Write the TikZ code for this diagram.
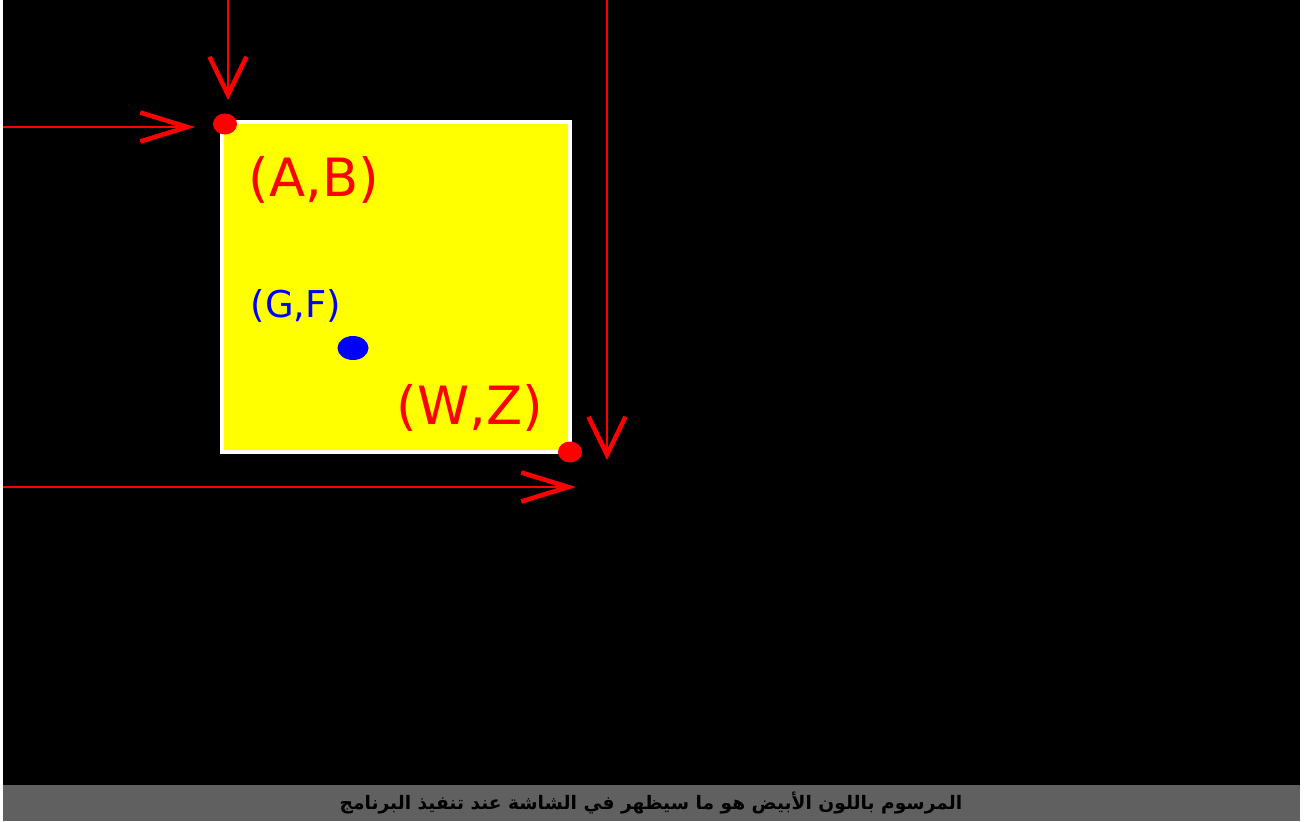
\documentclass[tikz,border=0pt]{standalone}
\usepackage{fontspec}
\setsansfont{DejaVu Sans}
\newfontfamily\arabicfont[Script=Arabic]{DejaVu Sans}
\TeXXeTstate=1
\usetikzlibrary{arrows.meta, shapes.geometric}
\definecolor{screenred}{RGB}{255,0,0}
\definecolor{screenblue}{RGB}{0,0,255}
\definecolor{screenyellow}{RGB}{255,255,0}
\definecolor{bargray}{RGB}{96,96,96}

\begin{document}
\begin{tikzpicture}[
    x=0.01cm, y=-0.01cm,
    % Corner and centre points
    corner_dot/.style={ellipse, fill=screenred, inner sep=0pt, minimum width=0.24cm, minimum height=0.21cm},
    centre_dot/.style={ellipse, fill=screenblue, inner sep=0pt, minimum width=0.31cm, minimum height=0.24cm},
    % Pointer arrows
    down_pointer/.style={-{Straight Barb[length=3.8mm, width=3.7mm, line width=1.3pt]}, draw=screenred, line width=0.7pt},
    right_pointer/.style={-{Straight Barb[length=4.7mm, width=2.9mm, line width=1.3pt]}, draw=screenred, line width=0.7pt},
    % Labels
    corner_label/.style={text=screenred, font=\sffamily\fontsize{15}{15}\selectfont, inner sep=0pt},
    centre_label/.style={text=screenblue, font=\sffamily\fontsize{10.5}{10.5}\selectfont, inner sep=0pt}
]

    % --- BACKGROUND ---
    \useasboundingbox[fill=white] (0,0) rectangle (1304,821);
    \fill[black] (3,0) rectangle (1300,785);
    \fill[bargray] (3,785) rectangle (1300,821);

    % --- RECTANGLE ---
    \draw[fill=screenyellow, draw=white, line width=1.2pt] (222,122) rectangle (570,452);

    % --- POINTS ---
    \node[corner_dot] (AB) at (225,124) {};
    \node[corner_dot] (WZ) at (570,452) {};
    \node[centre_dot] (GF) at (353,348) {};

    % --- LABELS ---
    \node[corner_label] (ABlabel) at (314,180) {(A,B)};
    \node[centre_label] (GFlabel) at (296,306) {(G,F)};
    \node[corner_label] (WZlabel) at (470,408) {(W,Z)};

    % --- POINTERS ---
    \coordinate (topA) at (228,0);
    \coordinate (tipA) at (228,100);
    \coordinate (leftB) at (3,127);
    \coordinate (tipB) at (195,127);
    \coordinate (topW) at (607,0);
    \coordinate (tipW) at (607,460);
    \coordinate (leftZ) at (3,487);
    \coordinate (tipZ) at (576,487);
    \draw[down_pointer] (topA) -- (tipA);
    \draw[right_pointer] (leftB) -- (tipB);
    \draw[down_pointer] (topW) -- (tipW);
    \draw[right_pointer] (leftZ) -- (tipZ);

    % --- CAPTION ---
    \node[font=\arabicfont\bfseries\fontsize{5.3}{5.3}\selectfont, text=black, inner sep=0pt] (caption) at (651,803)
        {\beginR المرسوم باللون الأبيض هو ما سيظهر في الشاشة عند تنفيذ البرنامج\endR};

\end{tikzpicture}
\end{document}
